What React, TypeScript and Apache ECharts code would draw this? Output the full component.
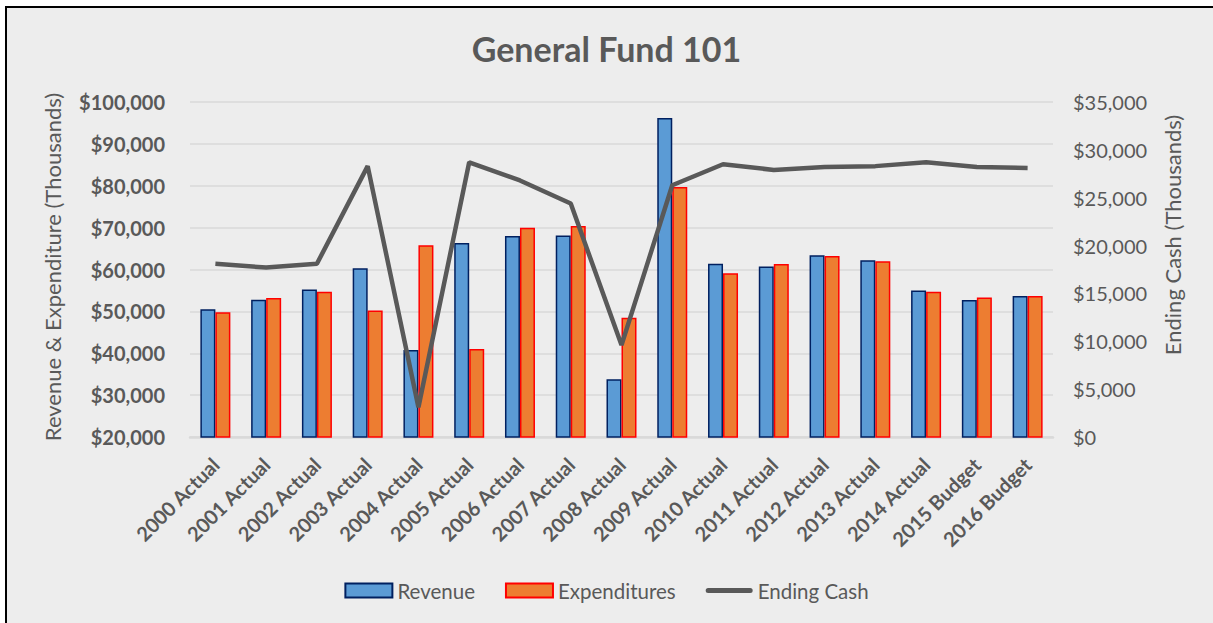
import React, { useEffect, useRef } from "react";
import * as echarts from "echarts";

const categories = [
  "2000 Actual", "2001 Actual", "2002 Actual", "2003 Actual", "2004 Actual",
  "2005 Actual", "2006 Actual", "2007 Actual", "2008 Actual", "2009 Actual",
  "2010 Actual", "2011 Actual", "2012 Actual", "2013 Actual", "2014 Actual",
  "2015 Budget", "2016 Budget",
];
const revenue = [50500, 52800, 55200, 60300, 40800, 66300, 68000, 68100, 33800, 96200, 61400, 60700, 63400, 62200, 55000, 52700, 53700];
const expenditures = [49800, 53200, 54700, 50200, 65800, 41000, 70000, 70400, 48500, 79700, 59100, 61300, 63200, 62000, 54700, 53300, 53700];
const endingCash = [18100, 17700, 18100, 28300, 3100, 28700, 26800, 24400, 9600, 26300, 28500, 27900, 28200, 28300, 28700, 28200, 28100];

const FONT = "Lato, 'Open Sans', sans-serif";
const GREY = "#595959";

const money = (v: number) => "$" + Math.round(v).toString().replace(/\B(?=(\d{3})+(?!\d))/g, ",");

const LINE_ICON = "path://M0,0L0,0M0,14L0,14M2.5,4.5L44.5,4.5A2.5,2.5,0,0,1,44.5,9.5L2.5,9.5A2.5,2.5,0,0,1,2.5,4.5Z";

export default function App() {
  const ref = useRef<HTMLDivElement>(null);
  useEffect(() => {
    if (!ref.current) return;
    const chart = echarts.init(ref.current, null, { renderer: "svg" });
    chart.setOption({
      animation: false,
      backgroundColor: "transparent",
      textStyle: { fontFamily: FONT, color: GREY },
      title: {
        text: "General Fund 101",
        left: "center",
        top: 26,
        textStyle: { fontFamily: FONT, fontSize: 34, fontWeight: "bold", color: GREY },
      },
      graphic: [
        {
          type: "text",
          x: 52,
          y: 267,
          rotation: Math.PI / 2,
          style: {
            text: "Revenue & Expenditure (Thousands)",
            fontFamily: FONT,
            fontSize: 22,
            fill: GREY,
            align: "center",
            verticalAlign: "middle",
          },
        },
        {
          type: "text",
          x: 1172,
          y: 235,
          rotation: Math.PI / 2,
          style: {
            text: "Ending Cash (Thousands)",
            fontFamily: FONT,
            fontSize: 22,
            fill: GREY,
            align: "center",
            verticalAlign: "middle",
          },
        },
      ],
      grid: { left: 190, right: 160, top: 102, bottom: 186, containLabel: false },
      legend: {
        top: 575,
        left: "center",
        itemGap: 30,
        itemWidth: 47,
        itemHeight: 14,
        textStyle: { fontFamily: FONT, fontSize: 20.5, color: GREY },
        data: [
          { name: "Revenue", icon: "rect" },
          { name: "Expenditures", icon: "rect" },
          { name: "Ending Cash", icon: LINE_ICON },
        ],
      },
      xAxis: {
        type: "category",
        data: categories,
        axisLine: { lineStyle: { color: "#d9d9d9", width: 2.5 } },
        axisTick: { show: false },
        axisLabel: {
          interval: 0,
          rotate: 45,
          margin: 24,
          fontFamily: FONT,
          fontSize: 20,
          fontWeight: "bold",
          color: GREY,
        },
      },
      yAxis: [
        {
          type: "value",
          min: 20000,
          max: 100000,
          interval: 10000,
          axisLine: { show: false },
          axisTick: { show: false },
          axisLabel: {
            formatter: money,
            fontFamily: FONT,
            fontSize: 20,
            fontWeight: "bold",
            color: GREY,
            margin: 25,
          },
          splitLine: { lineStyle: { color: "#d9d9d9", width: 1.5 } },
        },
        {
          type: "value",
          min: 0,
          max: 35000,
          interval: 5000,
          position: "right",
          axisLine: { show: false },
          axisTick: { show: false },
          axisLabel: {
            formatter: money,
            fontFamily: FONT,
            fontSize: 20,
            color: GREY,
            margin: 20,
          },
          splitLine: { show: false },
        },
      ],
      series: [
        {
          name: "Revenue",
          type: "bar",
          data: revenue,
          barWidth: 15,
          barGap: "0%",
          itemStyle: { color: "#5b9bd5", borderColor: "#002060", borderWidth: 1.5 },
        },
        {
          name: "Expenditures",
          type: "bar",
          data: expenditures,
          barWidth: 15,
          barGap: "0%",
          itemStyle: { color: "#ed7d31", borderColor: "#ff0000", borderWidth: 1.5 },
        },
        {
          name: "Ending Cash",
          type: "line",
          yAxisIndex: 1,
          data: endingCash,
          symbol: "none",
          lineStyle: { color: GREY, width: 4.5 },
          itemStyle: { color: GREY },
        },
      ],
    });
    return () => chart.dispose();
  }, []);

  return (
    <div style={{ position: "fixed", left: 0, top: 0, width: 1213, height: 623, background: "#ffffff", overflow: "hidden" }}>
      <div
        style={{
          position: "absolute",
          left: 5,
          top: 6,
          width: 1230,
          height: 640,
          background: "#ededed",
          borderLeft: "2px solid #000",
          borderTop: "2px solid #000",
          boxSizing: "border-box",
        }}
      />
      <div ref={ref} style={{ position: "absolute", left: 0, top: 0, width: 1213, height: 623 }} />
    </div>
  );
}
